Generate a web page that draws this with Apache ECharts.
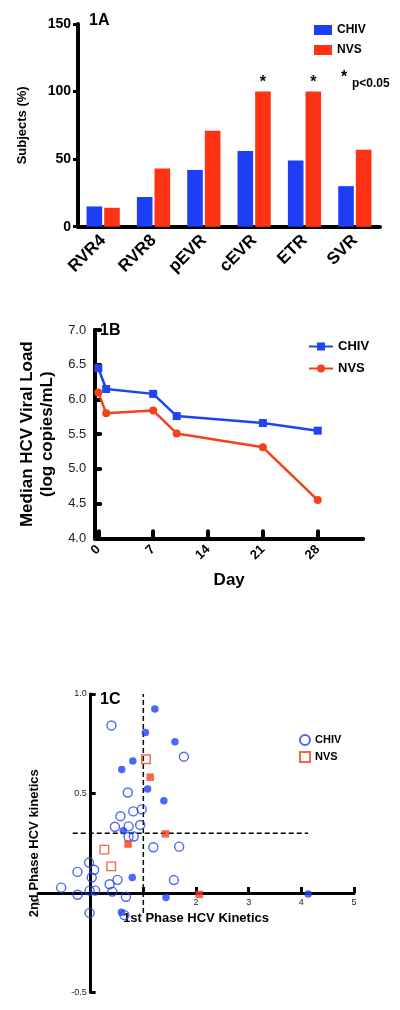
<!DOCTYPE html>
<html><head><meta charset="utf-8">
<script src="https://cdn.jsdelivr.net/npm/echarts@6/dist/echarts.min.js"></script>
<style>html,body{margin:0;padding:0;background:#fff}#c{width:400px;height:1010px}</style>
</head><body><div id="c"></div>
<script>
// ---------- Panel 1A data ----------
const categories1A = ['RVR4', 'RVR8', 'pEVR', 'cEVR', 'ETR', 'SVR'];
const chiv1A = [15, 22, 42, 56, 49, 30];
const nvs1A = [14, 43, 71, 100, 100, 57];
const sig1A = [false, false, false, true, true, false];
// ---------- Panel 1B data ----------
const days1B = [0, 1, 7, 10, 21, 28];
const chiv1B = [6.45, 6.15, 6.08, 5.76, 5.66, 5.55];
const nvs1B = [6.10, 5.80, 5.84, 5.51, 5.31, 4.55];
const xTicks1B = [0, 7, 14, 21, 28];
// ---------- Panel 1C data ----------
const chivOpen1C = [[0.395,0.842],[1.77,0.685],[0.705,0.505],[0.97,0.42],[0.81,0.41],[0.565,0.386],[0.46,0.333],[0.72,0.335],[0.94,0.342],[0.72,0.282],[0.82,0.284],[1.19,0.23],[1.68,0.233],[-0.03,0.153],[-0.25,0.106],[0.066,0.117],[0.02,0.078],[1.58,0.065],[0.51,0.066],[0.36,0.044],[0.41,0.007],[-0.02,0.012],[0.085,0.012],[-0.25,-0.009],[-0.56,0.027],[0.67,-0.019],[-0.02,-0.10],[0.64,-0.111]];
const chivFilled1C = [[1.218,0.925],[1.04,0.806],[1.60,0.76],[0.80,0.663],[0.59,0.621],[1.08,0.522],[1.39,0.463],[0.62,0.313],[0.79,0.078],[1.43,-0.022],[4.13,-0.005],[0.585,-0.097]];
const nvsOpen1C = [[1.05,0.672],[0.26,0.218],[0.39,0.134]];
const nvsFilled1C = [[1.13,0.582],[1.42,0.297],[0.71,0.246],[2.06,-0.007]];
const refX1C = 1, refXRange1C = [-0.1, 1.0];
const refY1C = 0.3, refYRange1C = [-0.34, 4.13];
const xRange1C = [-1, 5], yRange1C = [-0.5, 1.0];
const xTickValues1C = [-1, 2, 3, 4, 5];
const xTickLabels1C = ['1', '2', '3', '4', '5'];
const yTickValues1C = [-0.5, 0.5, 1.0];
const yTickLabels1C = ['-0.5', '0.5', '1.0'];

const FONT = '"Liberation Sans", Arial, Helvetica, sans-serif';
const BLUE = '#1d3ef5', RED = '#ff3314';
const LBLUE = '#1f44f0', LRED = '#f5401c';
const strip = n => n.split('-')[0];

// grid 2 geometry; the axes are shifted onto the zero lines with offset
const G2 = {left: 38, top: 694, width: 316, height: 298.5};
const yAxisOffset1C = -G2.width * (0 - xRange1C[0]) / (xRange1C[1] - xRange1C[0]);
const xAxisOffset1C = -G2.height * (0 - yRange1C[0]) / (yRange1C[1] - yRange1C[0]);

const chart = echarts.init(document.getElementById('c'), null, {renderer: 'canvas'});
const option = {
  animation: false,
  textStyle: {fontFamily: FONT},
  grid: [
    {left: 78, top: 24, width: 302, height: 202.7, outerBoundsMode: 'none', containLabel: false},
    {left: 95.2, top: 330, width: 268, height: 208.3, outerBoundsMode: 'none', containLabel: false},
    Object.assign({outerBoundsMode: 'none', containLabel: false}, G2)
  ],
  legend: [
    {data: ['CHIV-A', 'NVS-A'], formatter: strip, orient: 'vertical', left: 314, top: 24, padding: 0,
     itemWidth: 18, itemHeight: 10, itemGap: 8, icon: 'rect',
     textStyle: {fontFamily: FONT, fontWeight: 'bold', fontSize: 12, color: '#000'}},
    {data: ['CHIV-B', 'NVS-B'], formatter: strip, orient: 'vertical', left: 308, top: 340, padding: 0,
     itemWidth: 24, itemHeight: 10, itemGap: 9,
     textStyle: {fontFamily: FONT, fontWeight: 'bold', fontSize: 13, color: '#000'}},
    {data: ['CHIV-C', 'NVS-C'], formatter: strip, orient: 'vertical', left: 299, top: 734, padding: 0,
     itemWidth: 10, itemHeight: 10, itemGap: 5,
     textStyle: {fontFamily: FONT, fontWeight: 'bold', fontSize: 11, color: '#000'}}
  ],
  xAxis: [
    {gridIndex: 0, type: 'category', data: categories1A,
     axisLine: {lineStyle: {color: '#000', width: 4}}, axisTick: {show: false},
     axisLabel: {rotate: 45, interval: 0, margin: 11, fontWeight: 'bold', fontSize: 17, color: '#000', fontFamily: FONT}},
    {gridIndex: 1, type: 'value', min: -0.4, max: 33.8, splitLine: {show: false},
     axisLine: {onZero: false, lineStyle: {color: '#000', width: 4}},
     axisTick: {inside: true, length: 7, customValues: xTicks1B, lineStyle: {width: 4, color: '#000', cap: 'round'}},
     axisLabel: {customValues: xTicks1B, rotate: 45, margin: 9, fontWeight: 'bold', fontSize: 13, color: '#000', fontFamily: FONT},
     name: 'Day', nameLocation: 'middle', nameGap: 34,
     nameTextStyle: {fontWeight: 'bold', fontSize: 17, color: '#000', fontFamily: FONT}},
    {gridIndex: 2, type: 'value', min: xRange1C[0], max: xRange1C[1], splitLine: {show: false},
     offset: xAxisOffset1C,
     axisLine: {onZero: false, lineStyle: {color: '#000', width: 3}},
     axisTick: {inside: true, length: 6, customValues: [1, 2, 3, 4, 5], lineStyle: {width: 3, color: '#000'}},
     axisLabel: {customValues: xTickValues1C, margin: 5, fontSize: 9, color: '#222', fontFamily: FONT,
       formatter: v => xTickLabels1C[xTickValues1C.indexOf(v)] || ''},
     name: '1st Phase HCV Kinetics', nameLocation: 'middle', nameGap: 19,
     nameTextStyle: {fontWeight: 'bold', fontSize: 13, color: '#000', fontFamily: FONT}}
  ],
  yAxis: [
    {gridIndex: 0, type: 'value', min: 0, max: 150, interval: 50, splitLine: {show: false},
     axisLine: {show: true, lineStyle: {color: '#000', width: 4}},
     axisTick: {show: true, length: 5, lineStyle: {width: 3, color: '#000'}},
     axisLabel: {margin: 7, fontWeight: 'bold', fontSize: 14, color: '#000', fontFamily: FONT},
     name: 'Subjects (%)', nameLocation: 'middle', nameGap: 49,
     nameTextStyle: {fontWeight: 'bold', fontSize: 13, color: '#000', fontFamily: FONT}},
    {gridIndex: 1, type: 'value', min: 4, max: 7, interval: 0.5, splitLine: {show: false},
     axisLine: {show: true, onZero: false, lineStyle: {color: '#000', width: 4}},
     axisTick: {show: true, inside: true, length: 5, lineStyle: {width: 4, color: '#000', cap: 'round'}},
     axisLabel: {margin: 9, fontSize: 13, color: '#222', fontFamily: FONT, formatter: v => v.toFixed(1)},
     name: 'Median HCV Viral Load\n(log copies/mL)', nameLocation: 'middle', nameGap: 38,
     nameTextStyle: {fontWeight: 'bold', fontSize: 17, lineHeight: 20, color: '#000', fontFamily: FONT}},
    {gridIndex: 2, type: 'value', min: yRange1C[0], max: yRange1C[1], splitLine: {show: false},
     offset: yAxisOffset1C,
     axisLine: {show: true, onZero: false, lineStyle: {color: '#000', width: 3}},
     axisTick: {show: true, inside: true, length: 5, customValues: yTickValues1C, lineStyle: {width: 3, color: '#000'}},
     axisLabel: {customValues: yTickValues1C, margin: 4, fontSize: 9, color: '#222', fontFamily: FONT,
       formatter: v => yTickLabels1C[yTickValues1C.indexOf(v)] || ''},
     name: '2nd Phase HCV kinetics', nameLocation: 'middle', nameGap: 50,
     nameTextStyle: {fontWeight: 'bold', fontSize: 13, color: '#000', fontFamily: FONT}}
  ],
  series: [
    {name: 'CHIV-A', type: 'bar', xAxisIndex: 0, yAxisIndex: 0, data: chiv1A,
     barWidth: '31%', barGap: '13%', itemStyle: {color: BLUE}},
    {name: 'NVS-A', type: 'bar', xAxisIndex: 0, yAxisIndex: 0, data: nvs1A,
     barWidth: '31%', barGap: '13%', itemStyle: {color: RED},
     label: {show: true, position: 'top', distance: 1, color: '#000', fontWeight: 'bold', fontSize: 16, fontFamily: FONT,
       formatter: p => sig1A[p.dataIndex] ? '*' : ''}},
    {name: 'CHIV-B', type: 'line', xAxisIndex: 1, yAxisIndex: 1,
     data: days1B.map((d, i) => [d, chiv1B[i]]), symbol: 'rect', symbolSize: 8,
     lineStyle: {color: LBLUE, width: 2.5}, itemStyle: {color: LBLUE}},
    {name: 'NVS-B', type: 'line', xAxisIndex: 1, yAxisIndex: 1,
     data: days1B.map((d, i) => [d, nvs1B[i]]), symbol: 'circle', symbolSize: 8,
     lineStyle: {color: LRED, width: 2.5}, itemStyle: {color: LRED}},
    {name: 'refV', type: 'line', xAxisIndex: 2, yAxisIndex: 2, silent: true, z: 1,
     data: [[refX1C, refXRange1C[0]], [refX1C, refXRange1C[1]]], symbol: 'none',
     lineStyle: {color: '#000', width: 1.5, type: [5, 3]}},
    {name: 'refH', type: 'line', xAxisIndex: 2, yAxisIndex: 2, silent: true, z: 1,
     data: [[refYRange1C[0], refY1C], [refYRange1C[1], refY1C]], symbol: 'none',
     lineStyle: {color: '#000', width: 1.5, type: [5, 3]}},
    {name: 'CHIV-C', type: 'scatter', xAxisIndex: 2, yAxisIndex: 2, data: chivOpen1C,
     symbol: 'circle', symbolSize: 9, z: 3,
     itemStyle: {color: 'rgba(255,255,255,0)', borderColor: LBLUE, borderWidth: 1.4}},
    {name: 'CHIV-Cf', type: 'scatter', xAxisIndex: 2, yAxisIndex: 2, data: chivFilled1C,
     symbol: 'circle', symbolSize: 7.5, z: 3, itemStyle: {color: LBLUE}},
    {name: 'NVS-C', type: 'scatter', xAxisIndex: 2, yAxisIndex: 2, data: nvsOpen1C,
     symbol: 'rect', symbolSize: 8.5, z: 3,
     itemStyle: {color: 'rgba(255,255,255,0)', borderColor: LRED, borderWidth: 1.4}},
    {name: 'NVS-Cf', type: 'scatter', xAxisIndex: 2, yAxisIndex: 2, data: nvsFilled1C,
     symbol: 'rect', symbolSize: 7.5, z: 3, itemStyle: {color: LRED}}
  ],
  graphic: [
    {type: 'text', left: 89, top: 13, style: {text: '1A', font: 'bold 16px ' + FONT, fill: '#000'}},
    {type: 'text', left: 100, top: 323, style: {text: '1B', font: 'bold 16px ' + FONT, fill: '#000'}},
    {type: 'text', left: 100, top: 692, style: {text: '1C', font: 'bold 16px ' + FONT, fill: '#000'}},
    {type: 'text', left: 341, top: 70, style: {text: '*', font: 'bold 16px ' + FONT, fill: '#000'}},
    {type: 'text', left: 352, top: 78, style: {text: 'p<0.05', font: 'bold 12px ' + FONT, fill: '#000'}}
  ]
};
chart.setOption(option);
</script>
</body></html>
